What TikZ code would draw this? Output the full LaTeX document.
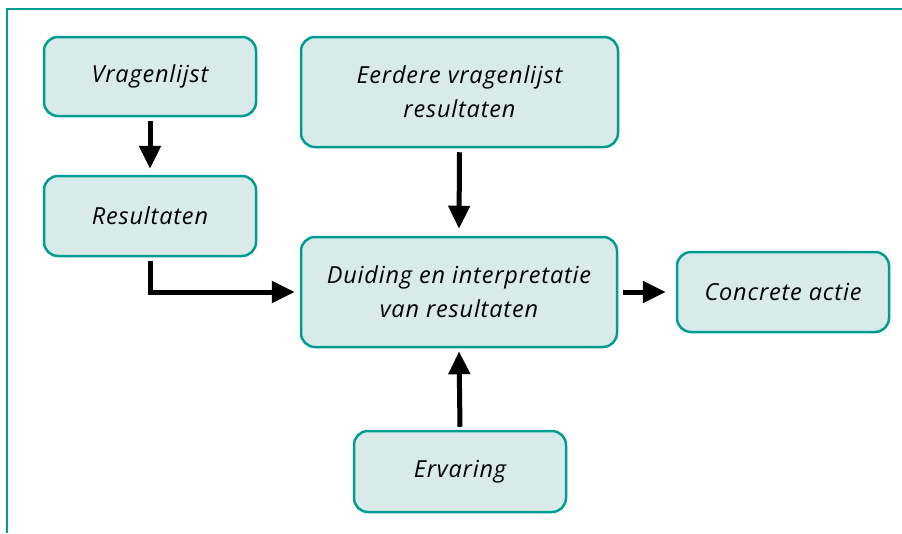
\documentclass[tikz,border=0pt]{standalone}
\usepackage{fontspec}
\setmainfont{Open Sans}[LetterSpace=3.5]
\usetikzlibrary{arrows.meta}
\definecolor{teal1}{RGB}{0,155,145}
\definecolor{boxfill}{RGB}{216,235,234}
\tikzset{
  box/.style={draw=teal1, line width=2.5pt, fill=boxfill, rounded corners=14pt,
    align=center, font=\itshape\fontsize{23.5}{34}\selectfont, inner sep=0pt},
  arr/.style={line width=5pt, -{Triangle[width=21pt,length=23pt]}},
}
\begin{document}
\begin{tikzpicture}[x=1pt,y=-1pt]
\useasboundingbox (0,0) rectangle (902,533);
\draw[teal1, line width=1.5pt] (7,533) -- (7,9) -- (902,9);
\node[box, minimum width=212pt, minimum height=79pt] (vr) at (150,76.5) {Vragenlijst};
\node[box, minimum width=212pt, minimum height=80pt] (re) at (150,216) {Resultaten};
\node[box, minimum width=317pt, minimum height=110pt] (ee) at (459.5,92) {Eerdere vragenlijst\\resultaten};
\node[box, minimum width=316pt, minimum height=110pt] (du) at (459,292) {Duiding en interpretatie\\van resultaten};
\node[box, minimum width=212pt, minimum height=80pt] (co) at (783,292) {Concrete actie};
\node[box, minimum width=212pt, minimum height=81pt] (er) at (460,471.5) {Ervaring};
\draw[arr] ([yshift=-4pt]vr.south) -- ([yshift=6pt]re.north);
\draw[arr] ([yshift=-4pt]re.south) |- ([xshift=-5pt]du.west);
\draw[arr] ([yshift=-4pt]ee.south) -- ([yshift=7pt]du.north);
\draw[arr] ([yshift=3pt]er.north) -- ([yshift=-3pt]du.south);
\draw[arr] ([xshift=5pt]du.east) -- ([xshift=-10pt]co.west);
\end{tikzpicture}
\end{document}
